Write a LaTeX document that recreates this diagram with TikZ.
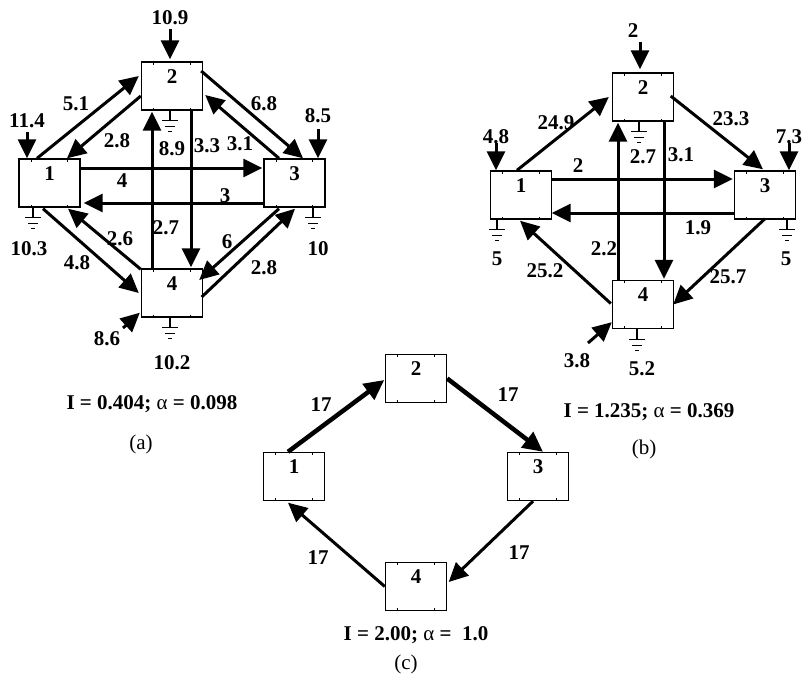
\documentclass[tikz,border=0pt]{standalone}
\usepackage{fontspec}
\setmainfont{Liberation Serif}
\usetikzlibrary{arrows.meta,calc}
\tikzset{
  gnd/.pic={\draw[line width=1.4pt] (0,0) -- (0,10) (-8,10) -- (8,10) (-5,16) -- (5,16) (-1.8,21) -- (1.8,21);}
}
\begin{document}
\begin{tikzpicture}[x=1pt,y=-1pt,
  font=\fontsize{21}{24}\selectfont\bfseries,
  box/.style={draw,line width=1.4pt,minimum width=61pt,minimum height=48pt,inner sep=0pt,
    text height=14pt,text depth=20pt,
    path picture={
      \foreach \f in {0.2,0.8}{
        \draw[line width=1pt] ($(path picture bounding box.north west)!\f!(path picture bounding box.north east)$) -- ++(0pt,-2.5pt)
          ($(path picture bounding box.south west)!\f!(path picture bounding box.south east)$) -- ++(0pt,2.5pt);
      }}},
  lab/.style={inner sep=0pt,text height=14pt,text depth=0pt},
  captext/.style={inner sep=0pt,text height=14pt,text depth=0pt,font=\fontsize{21}{24}\selectfont\mdseries},
  flow/.style={line width=3pt,-{Triangle[length=19pt,width=18pt]}},
  thick flow/.style={line width=4.5pt,-{Triangle[length=20pt,width=19pt]}},
  inp/.style={line width=3pt,-{Triangle[length=19pt,width=18pt]}}
]
\useasboundingbox (0,0) rectangle (802,673);
\newcommand\al{{\mdseries α}}

% ---------------- (a) ----------------
\node[box] (a1) at (49.5,183) {1};
\node[box] (a2) at (172,86) {2};
\node[box] (a3) at (294.5,183) {3};
\node[box] (a4) at (172,293) {4};

\draw[flow] ($(a1.north)+(-12.5,0)$) -- ($(a2.west)+(-2,-10)$);
\draw[flow] ($(a2.west)+(0,10)$) -- ($(a1.north)+(17.5,0)$);
\draw[flow] ($(a2.east)+(-2,-15)$) -- ($(a3.north)+(8.5,0)$);
\draw[flow] ($(a3.north)+(-15.5,0)$) -- ($(a2.east)+(2,9)$);
\draw[flow] ($(a1.east)+(0,-15)$) -- ($(a3.west)+(-1,-15)$);
\draw[flow] ($(a3.west)+(0,20)$) -- ($(a1.east)+(3,20)$);
\draw[flow] ($(a4.north)+(-20,0)$) -- ($(a2.south)+(-20,1)$);
\draw[flow] ($(a2.south)+(19,0)$) -- ($(a4.north)+(19,-1)$);
\draw[flow] ($(a1.south)+(-6.5,1)$) -- ($(a4.west)+(-2,0)$);
\draw[flow] ($(a4.north west)+(0,1)$) -- ($(a1.south)+(18.5,1)$);
\draw[flow] ($(a3.south)+(-15.5,1)$) -- ($(a4.east)+(-4,-13)$);
\draw[flow] ($(a4.east)+(-1.5,4)$) -- ($(a3.south)+(0.5,1)$);

\node[lab] (a2in) at (170,17) {10.9};
\draw[inp] ($(a2in)+(0,12)$) -- ($(a2.north)+(-2,-2)$);
\node[lab] (a1in) at (27,120) {11.4};
\draw[inp] ($(a1in)+(0,12)$) -- ($(a1.north)+(-22.5,0)$);
\node[lab] (a3in) at (318,115) {8.5};
\draw[inp] ($(a3in)+(0,14)$) -- ($(a3.north)+(23.5,0)$);
\node[lab] (a4in) at (107,338) {8.6};
\draw[inp] ($(a4in)+(16,-10)$) -- ($(a4.south west)+(-1,-5)$);

\path ($(a1.south)+(-16.5,0)$) pic {gnd};
\path ($(a2.south)+(-2,0)$) pic {gnd};
\path ($(a3.south)+(18.5,0)$) pic {gnd};
\path ($(a4.south)+(-2,0)$) pic {gnd};

\node[lab] at (76,103) {5.1};
\node[lab] at (117,140) {2.8};
\node[lab] at (264,103) {6.8};
\node[lab] at (240,143) {3.1};
\node[lab] at (172,148) {8.9};
\node[lab] at (207,145) {3.3};
\node[lab] at (122,180) {4};
\node[lab] at (225,195) {3};
\node[lab] at (120,238) {2.6};
\node[lab] at (166,227) {2.7};
\node[lab] at (227,241) {6};
\node[lab] at (77,262) {4.8};
\node[lab] at (264,267) {2.8};
\node[lab] at (29,248) {10.3};
\node[lab] at (318,248) {10};
\node[lab] at (172,362) {10.2};
\node[lab] at (152,402) {I = 0.404; \al{} = 0.098};
\node[captext] at (141,442) {(a)};

% ---------------- (b) ----------------
\node[box] (b1) at (521,195) {1};
\node[box] (b2) at (643,97) {2};
\node[box] (b3) at (765,195) {3};
\node[box] (b4) at (643,304.5) {4};

\draw[flow] ($(b1.north)+(-4,0)$) -- ($(b2.west)+(-3,0)$);
\draw[flow] ($(b2.east)+(-3.5,-1)$) -- ($(b3.north)+(-2,-1)$);
\draw[flow] ($(b1.east)+(0,-16)$) -- ($(b3.west)+(-1,-16)$);
\draw[flow] ($(b3.west)+(0,18)$) -- ($(b1.east)+(-0.5,18)$);
\draw[flow] ($(b4.north)+(-25,0)$) -- ($(b2.south)+(-25,1)$);
\draw[flow] ($(b2.south)+(21,-1)$) -- ($(b4.north)+(21,-1)$);
\draw[flow] ($(b4.west)+(-1,-1)$) -- ($(b1.south)+(-1,1)$);
\draw[flow] ($(b3.south)+(0,-1)$) -- ($(b4.east)+(-1,0)$);

\node[lab] (b2in) at (633,30) {2};
\draw[inp] ($(b2in)+(7,12)$) -- ($(b2.north)+(-3,-3)$);
\node[lab] (b1in) at (496,136) {4.8};
\draw[inp] ($(b1in)+(0,7)$) -- ($(b1.north)+(-25,0)$);
\node[lab] (b3in) at (789,136) {7.3};
\draw[inp] ($(b3in)+(0,7)$) -- ($(b3.north)+(24,0)$);
\node[lab] (b4in) at (577,360) {3.8};
\draw[inp] ($(b4in)+(11,-17)$) -- ($(b4.south west)+(0,-7)$);

\path ($(b1.south)+(-24,0)$) pic {gnd};
\path ($(b2.south)+(-4,0)$) pic {gnd};
\path ($(b3.south)+(22,0)$) pic {gnd};
\path ($(b4.south)+(-6,0)$) pic {gnd};

\node[lab] at (556,122) {24.9};
\node[lab] at (731,118) {23.3};
\node[lab] at (643,156) {2.7};
\node[lab] at (681,154) {3.1};
\node[lab] at (578,165) {2};
\node[lab] at (698,227) {1.9};
\node[lab] at (497,258) {5};
\node[lab] at (786,258) {5};
\node[lab] at (604,248) {2.2};
\node[lab] at (545,270) {25.2};
\node[lab] at (728,276) {25.7};
\node[lab] at (642,368) {5.2};
\node[lab] at (649,410) {I = 1.235; \al{} = 0.369};
\node[captext] at (644,447) {(b)};

% ---------------- (c) ----------------
\node[box] (c1) at (294,476.5) {1};
\node[box] (c2) at (416,378.5) {2};
\node[box] (c3) at (538,476.5) {3};
\node[box] (c4) at (416,586.5) {4};

\draw[thick flow] ($(c1.north)+(-6,0)$) -- ($(c2.west)+(-0.5,1.5)$);
\draw[thick flow] ($(c2.east)+(0,0)$) -- ($(c3.north)+(5,0)$);
\draw[flow] ($(c3.south)+(-5,0)$) -- ($(c4.east)+(1.5,-4.5)$);
\draw[flow] ($(c4.west)+(0,0)$) -- ($(c1.south)+(-6,1.5)$);

\node[lab] at (321,404) {17};
\node[lab] at (508,394) {17};
\node[lab] at (318,557) {17};
\node[lab] at (519,552) {17};
\node[lab] at (416,633) {I = 2.00; \al{} =\ \ 1.0};
\node[captext] at (406,662) {(c)};
\end{tikzpicture}
\end{document}
